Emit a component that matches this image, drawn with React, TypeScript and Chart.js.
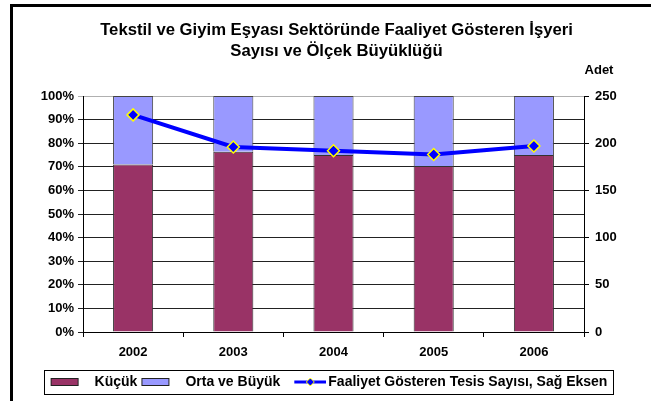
import React, { useEffect, useRef } from 'react';
import { Chart, registerables } from 'chart.js';

Chart.register(...registerables);

// ---- data ----
const titleLines = ['Tekstil ve Giyim Eşyası Sektöründe Faaliyet Gösteren İşyeri', 'Sayısı ve Ölçek Büyüklüğü'];
const rightAxisTitle = 'Adet';
const years = ['2002', '2003', '2004', '2005', '2006'];
const kucuk = [71, 76.4, 75, 70.3, 75];
const ortaBuyuk = [29, 23.6, 25, 29.7, 25];
const tesisSayisi = [230, 196, 192, 188, 197];
const seriesNames = ['Küçük', 'Orta ve Büyük', 'Faaliyet Gösteren Tesis Sayısı, Sağ Eksen'];

// ---- styles ----
const MAROON = '#993366';
const LAVENDER = '#9999FF';
const BLUE = '#0000FF';
const YELLOW = '#FFFF00';
const FONT = '"Liberation Sans", Arial, sans-serif';

function barSwatch(color: string): HTMLCanvasElement {
  const c = document.createElement('canvas');
  c.width = 44;
  c.height = 10;
  const g = c.getContext('2d')!;
  g.fillStyle = color;
  g.fillRect(1.5, 1.5, 27, 7);
  g.strokeStyle = '#222';
  g.lineWidth = 1;
  g.strokeRect(1.5, 1.5, 27, 7);
  return c;
}

function lineSwatch(): HTMLCanvasElement {
  const c = document.createElement('canvas');
  c.width = 42;
  c.height = 12;
  const g = c.getContext('2d')!;
  g.strokeStyle = BLUE;
  g.lineWidth = 3;
  g.beginPath();
  g.moveTo(10, 6);
  g.lineTo(42, 6);
  g.stroke();
  g.beginPath();
  g.moveTo(26, 2);
  g.lineTo(30, 6);
  g.lineTo(26, 10);
  g.lineTo(22, 6);
  g.closePath();
  g.fillStyle = BLUE;
  g.fill();
  g.strokeStyle = YELLOW;
  g.lineWidth = 1;
  g.stroke();
  return c;
}

const decorPlugin = {
  id: 'decor',
  afterDraw(chart: any) {
    const ctx = chart.ctx as CanvasRenderingContext2D;
    const area = chart.chartArea;
    ctx.save();
    // frame
    ctx.fillStyle = '#000';
    ctx.fillRect(10, 4, 641, 3);
    ctx.fillRect(10, 4, 3, 397);
    // title
    ctx.fillStyle = '#000';
    ctx.textAlign = 'center';
    ctx.textBaseline = 'alphabetic';
    ctx.font = `bold 16.7px ${FONT}`;
    const cx = (area.left + area.right) / 2 + 3;
    ctx.fillText(titleLines[0], cx, 35);
    ctx.fillText(titleLines[1], cx, 56);
    // right axis title
    ctx.font = `bold 13px ${FONT}`;
    ctx.fillText(rightAxisTitle, area.right + 15, 74);
    // legend border
    const hb = chart.legend?.legendHitBoxes;
    if (hb && hb.length) {
      const first = hb[0];
      const last = hb[hb.length - 1];
      const left = first.left - 12;
      const right = last.left + last.width + 5;
      const top = first.top + 7 - 12;
      ctx.strokeStyle = '#000';
      ctx.lineWidth = 1;
      ctx.strokeRect(Math.round(left) + 0.5, Math.round(top) + 0.5, Math.round(right - left), 24);
    }
    ctx.restore();
  },
};

export default function App() {
  const ref = useRef<HTMLCanvasElement | null>(null);

  useEffect(() => {
    document.body.style.margin = '0';
    const canvas = ref.current;
    if (!canvas) return;
    const swatches = [barSwatch(MAROON), barSwatch(LAVENDER), lineSwatch()];

    const tickFont = { family: FONT, size: 13, weight: 'bold' as const };
    const legendFont = { family: FONT, size: 14, weight: 'bold' as const };

    const chart = new Chart(canvas, {
      type: 'bar',
      data: {
        labels: years,
        datasets: [
          {
            type: 'line' as const,
            label: seriesNames[2],
            data: tesisSayisi,
            yAxisID: 'y1',
            borderColor: BLUE,
            backgroundColor: BLUE,
            borderWidth: 4,
            pointStyle: 'rectRot',
            pointRadius: 6,
            pointBackgroundColor: BLUE,
            pointBorderColor: YELLOW,
            pointBorderWidth: 1.5,
            tension: 0,
            order: 0,
          },
          {
            type: 'bar' as const,
            label: seriesNames[0],
            data: kucuk,
            yAxisID: 'y',
            backgroundColor: MAROON,
            borderColor: '#333',
            borderWidth: 1,
            categoryPercentage: 1,
            barPercentage: 0.4,
            order: 1,
          },
          {
            type: 'bar' as const,
            label: seriesNames[1],
            data: ortaBuyuk,
            yAxisID: 'y',
            backgroundColor: LAVENDER,
            borderColor: '#444',
            borderWidth: 1,
            categoryPercentage: 1,
            barPercentage: 0.4,
            order: 1,
          },
        ],
      },
      options: {
        animation: false,
        responsive: false,
        devicePixelRatio: 1,
        layout: { padding: { left: 12, right: 0, top: 96, bottom: 2 } },
        scales: {
          x: {
            stacked: true,
            grid: { drawOnChartArea: false, drawTicks: true, tickLength: 5, color: '#000', offset: true },
            border: { display: true, color: '#000' },
            ticks: { padding: 8, font: tickFont, color: '#000' },
            afterFit: (s: any) => { s.height = 34; },
          },
          y: {
            stacked: true,
            position: 'left',
            min: 0,
            max: 100,
            ticks: { stepSize: 10, padding: 4, font: tickFont, color: '#000', callback: (v: any) => v + '%' },
            grid: {
              color: (c: any) => (c.tick && c.tick.value === 100 ? '#b0b0b0' : '#222'),
              tickLength: 5,
            },
            border: { display: true, color: '#000' },
            afterFit: (s: any) => { s.width = 71; },
          },
          y1: {
            position: 'right',
            min: 0,
            max: 250,
            ticks: { stepSize: 50, padding: 6, font: tickFont, color: '#000' },
            grid: { drawOnChartArea: false, tickLength: 5, color: '#000' },
            border: { display: true, color: '#000' },
            afterFit: (s: any) => { s.width = 67; },
          },
        },
        plugins: {
          title: { display: false },
          tooltip: { enabled: false },
          legend: {
            display: true,
            position: 'bottom',
            labels: {
              usePointStyle: true,
              pointStyleWidth: 32,
              padding: 9,
              font: legendFont,
              color: '#000',
              generateLabels: () => [0, 1, 2].map((i) => ({
                text: seriesNames[i],
                pointStyle: swatches[i],
                fillStyle: 'transparent',
                strokeStyle: 'transparent',
                lineWidth: 0,
                hidden: false,
                datasetIndex: i,
                fontColor: '#000',
              })),
            },
          },
        },
      },
      plugins: [decorPlugin],
    });
    return () => chart.destroy();
  }, []);

  return (
    <div style={{ width: 651, height: 401, background: '#fff' }}>
      <canvas ref={ref} width={651} height={401} style={{ display: 'block' }} />
    </div>
  );
}
